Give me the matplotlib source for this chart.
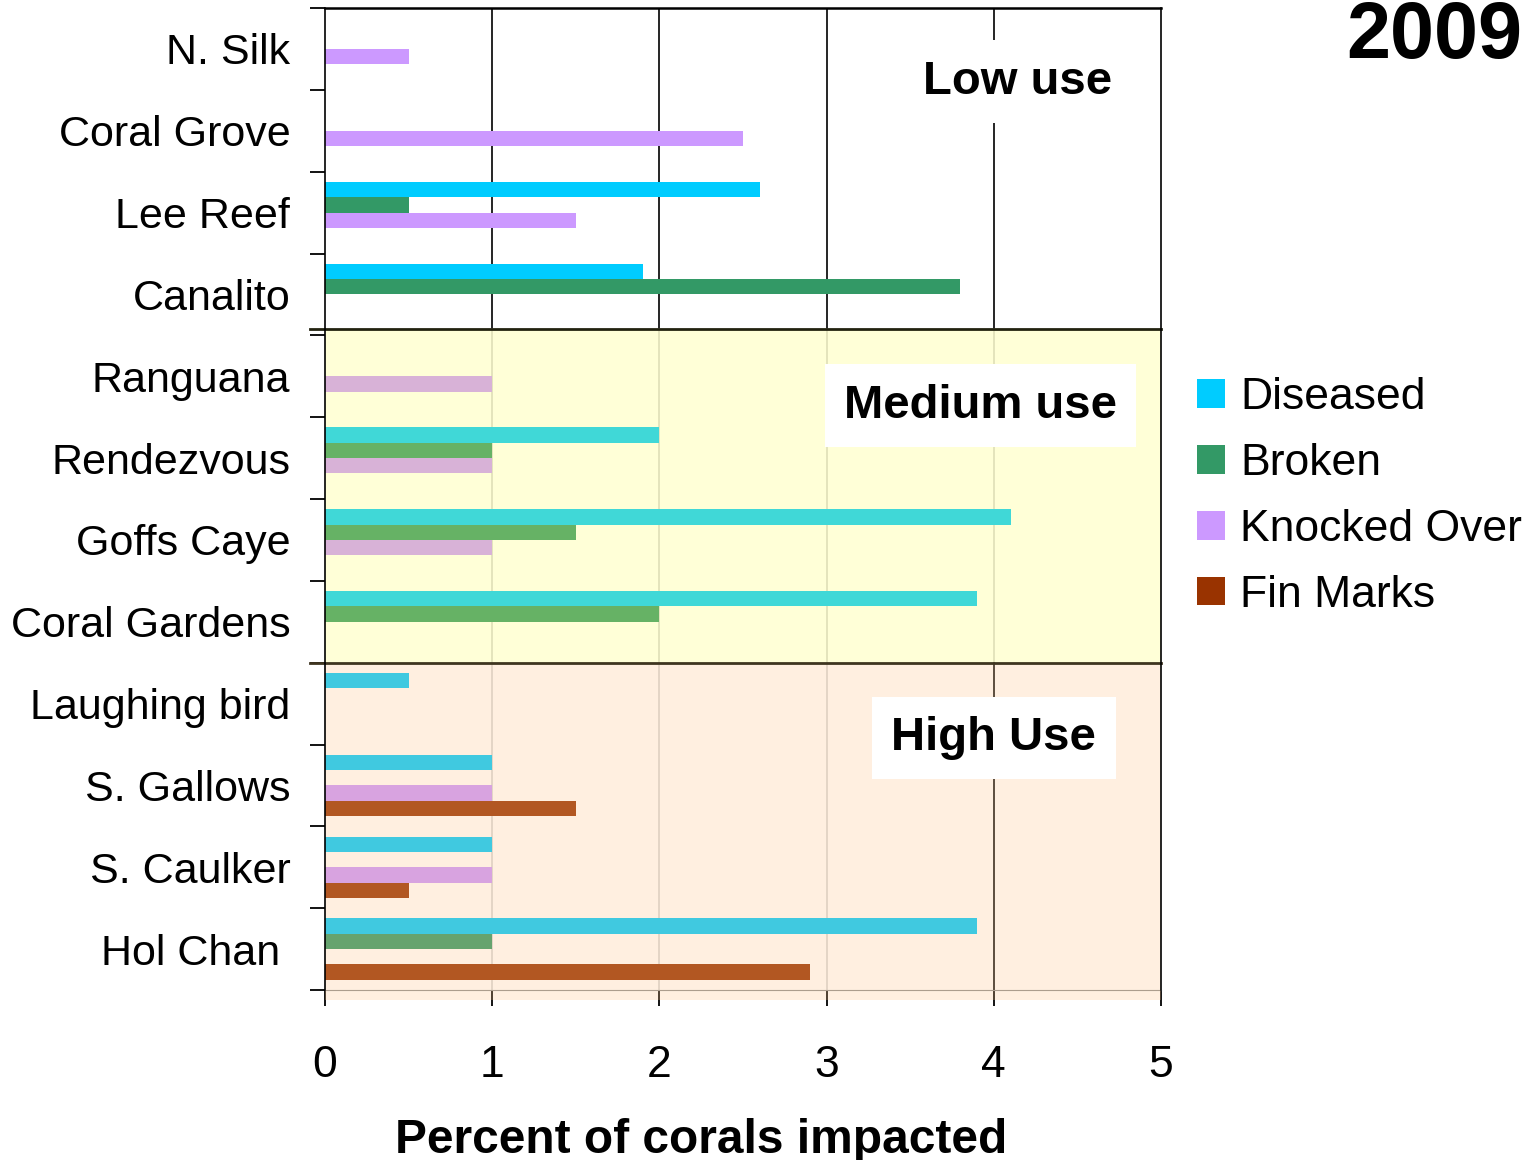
import numpy as np
import matplotlib
matplotlib.use("Agg")
import matplotlib.pyplot as plt
import matplotlib.transforms as mtransforms
from matplotlib.patches import Rectangle, Patch

plt.rcParams['font.family'] = ['Liberation Sans', 'DejaVu Sans']

sites = ["N. Silk", "Coral Grove", "Lee Reef", "Canalito",
         "Ranguana", "Rendezvous", "Goffs Caye", "Coral Gardens",
         "Laughing bird", "S. Gallows", "S. Caulker", "Hol Chan"]
diseased = [0, 0, 2.6, 1.9, 0, 2.0, 4.1, 3.9, 0.5, 1.0, 1.0, 3.9]
broken = [0, 0, 0.5, 3.8, 0, 1.0, 1.5, 2.0, 0, 0, 0, 1.0]
knocked = [0.5, 2.5, 1.5, 0, 1.0, 1.0, 1.0, 0, 0, 1.0, 1.0, 0]
fin = [0, 0, 0, 0, 0, 0, 0, 0, 0, 1.5, 0.5, 2.9]

series = ["Diseased", "Broken", "Knocked Over", "Fin Marks"]
colors = ["#00CCFF", "#339966", "#CC99FF", "#993300"]
xticks = [0, 1, 2, 3, 4, 5]

W, H = 1524, 1160
fig = plt.figure(figsize=(W / 100, H / 100), dpi=100)
ax = fig.add_axes([325 / W, 1 - 990 / H, 836 / W, 982 / H])
ax.set_xlim(0, 5)
ax.set_ylim(12, 0)

# bars
h = 0.187
centers = np.arange(len(sites)) + 0.5
for k, vals in enumerate([diseased, broken, knocked, fin]):
    ax.barh(centers + (k - 1.5) * h, vals, height=h, color=colors[k],
            linewidth=0, zorder=2)

# gridlines, per section
sep1, sep2 = 3.92, 8.0
for x in [1, 2, 3, 4]:
    ax.plot([x, x], [0, sep1], color="black", lw=1.2, zorder=1)
    ax.plot([x, x], [sep1, sep2], color="#d4d4d4", lw=1.2, zorder=1)
    ax.plot([x, x], [sep2, 12], color="black" if x == 4 else "#d4d4d4",
            lw=1.2, zorder=1)

# shaded sections
ax.add_patch(Rectangle((0, sep1), 5, sep2 - sep1, facecolor=(1, 1, 100 / 255),
                       alpha=0.255, linewidth=0, zorder=3))
ax.add_patch(Rectangle((0, sep2), 5, 12.12 - sep2,
                       facecolor=(1, 196 / 255, 137 / 255),
                       alpha=0.255, linewidth=0, zorder=3, clip_on=False))

# separators
ax.plot([-0.09, 5], [sep1, sep1], color="#22220f", lw=2, zorder=4, clip_on=False)
ax.plot([-0.09, 5], [sep2, sep2], color="#3f3520", lw=2, zorder=4, clip_on=False)

# spines
ax.spines["top"].set_linewidth(1.8)
ax.spines["bottom"].set_color("#909090")
for s in ["top", "left", "right"]:
    ax.spines[s].set_zorder(4)
    ax.spines[s].set_color("black")
ax.spines["left"].set_linewidth(1.2)
ax.spines["right"].set_linewidth(1.2)

# ticks
ax.set_yticks(np.arange(0, 13))
ax.set_yticklabels([])
ax.set_yticks(centers, labels=sites, minor=True)
ax.tick_params(axis="y", which="major", direction="out", length=11, width=1.3)
ax.tick_params(axis="y", which="minor", length=0, pad=25, labelsize=31)
ax.set_xticks(xticks)
ax.tick_params(axis="x", direction="out", length=11.5, width=1.3,
               labelsize=32, pad=28)

# Hol Chan sits a little further left in the original
lab = ax.get_yticklabels(minor=True)[-1]
lab.set_transform(lab.get_transform() +
                  mtransforms.ScaledTranslation(-0.10, 0, fig.dpi_scale_trans))

# section labels
box = dict(facecolor="white", edgecolor="none", pad=14)
ax.text(4.145, 0.9, "Low use", fontsize=34, fontweight="bold",
        ha="center", va="center", bbox=box, zorder=5)
ax.text(3.92, 4.86, "Medium use", fontsize=34, fontweight="bold",
        ha="center", va="center", bbox=box, zorder=5)
ax.text(4.0, 8.92, "High Use", fontsize=34, fontweight="bold",
        ha="center", va="center", bbox=box, zorder=5)

fig.text(701 / W, 1 - 1153 / H, "Percent of corals impacted", fontsize=34.5,
         fontweight="bold", ha="center", va="baseline")
fig.text(0.999, 1 - 58 / H, "2009", fontsize=57, fontweight="bold",
         ha="right", va="baseline")

handles = [Patch(facecolor=c, edgecolor="none", label=l)
           for c, l in zip(colors, series)]
fig.legend(handles=handles, loc="upper left",
           bbox_to_anchor=(1197 / W, 1 - 377 / H), frameon=False,
           fontsize=32, handlelength=0.62, handleheight=0.62,
           handletextpad=0.35, labelspacing=0.56, borderpad=0,
           borderaxespad=0)

plt.savefig("out.png", dpi=100)
